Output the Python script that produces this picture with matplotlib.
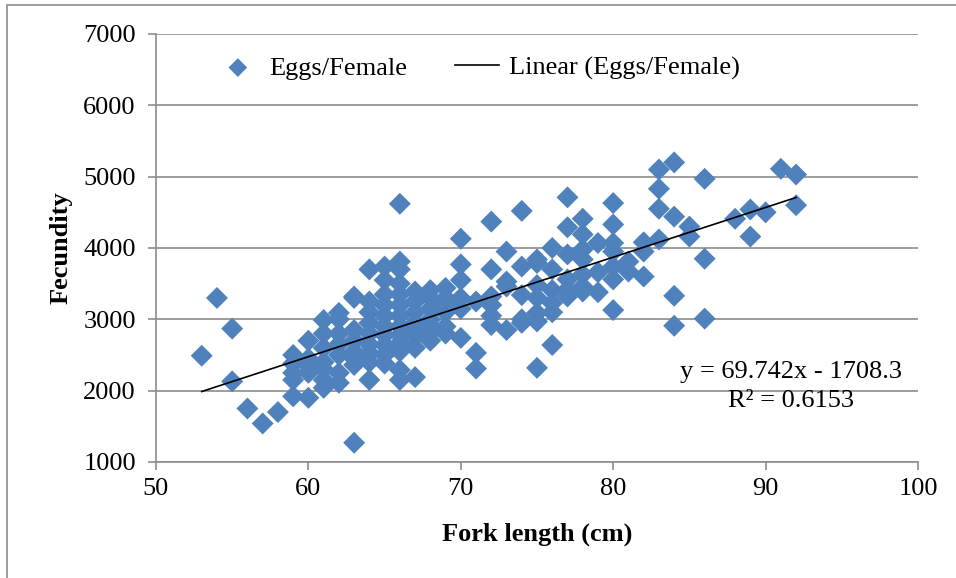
import matplotlib.pyplot as plt
from matplotlib.patches import Rectangle

# fork length (cm) -> eggs per female
fecundity = {
    53: [2490],
    54: [3300],
    55: [2870, 2130],
    56: [1750],
    57: [1540],
    58: [1700],
    59: [2500, 2380, 2250, 2150, 1920],
    60: [2700, 2450, 2350, 2250, 1900],
    61: [2990, 2800, 2600, 2400, 2300, 2150, 2040],
    62: [3090, 3000, 2800, 2650, 2500, 2250, 2110],
    63: [3320, 3300, 2850, 2700, 2550, 2450, 2360, 1270],
    64: [3700, 3250, 3100, 2950, 2800, 2650, 2530, 2400, 2150],
    65: [3740, 3550, 3350, 3200, 3050, 2900, 2780, 2640, 2500, 2380],
    66: [4620, 3810, 3700, 3500, 3350, 3200, 3050, 2900, 2780, 2670, 2550, 2290, 2150],
    67: [3390, 3250, 3100, 2950, 2850, 2760, 2600, 2190],
    68: [3410, 3300, 3150, 3000, 2900, 2810, 2700],
    69: [3440, 3300, 3230, 3100, 2900, 2800],
    70: [4130, 3770, 3550, 3300, 3150, 2740],
    71: [3250, 2530, 2310],
    72: [4370, 3700, 3320, 3200, 3050, 2920],
    73: [3950, 3530, 3460, 2850],
    74: [4520, 3740, 3340, 3000, 2950],
    75: [3840, 3790, 3480, 3300, 3090, 2970, 2320],
    76: [4000, 3700, 3410, 3230, 3100, 2640],
    77: [4710, 4290, 3910, 3560, 3420, 3320],
    78: [4410, 4190, 3980, 3840, 3630, 3460, 3390],
    79: [4070, 3660, 3380],
    80: [4630, 4330, 4070, 3950, 3740, 3560, 3130],
    81: [3810, 3670],
    82: [4080, 3950, 3600],
    83: [5100, 4830, 4550, 4120],
    84: [5200, 4440, 3330, 2910],
    85: [4300, 4160],
    86: [4970, 3850, 3010],
    88: [4410],
    89: [4540, 4160],
    90: [4500],
    91: [5110],
    92: [5030, 4600],
}
length = [k for k, v in fecundity.items() for _ in v]
eggs = [e for v in fecundity.values() for e in v]

# trendline as printed on the chart
slope = 69.742
intercept = -1708.3
r2 = 0.6153

plt.rcParams['font.family'] = ['Liberation Serif', 'DejaVu Serif']
FS = 19

fig = plt.figure(figsize=(9.56, 5.78), dpi=100)
ax = fig.add_axes([156/956, 1-462/578, (918-156)/956, (462-34)/578])

ax.scatter(length, eggs, marker='D', s=125, color='#4F81BD', edgecolors='none',
           label='Eggs/Female', zorder=3)
xs = [min(length), max(length)]
ax.plot(xs, [slope*x + intercept for x in xs], color='black', lw=1.2,
        label='Linear (Eggs/Female)', zorder=4)

ax.set_xlim(50, 100)
ax.set_ylim(1000, 7000)
ax.set_xticks(range(50, 101, 10))
ax.set_yticks(range(1000, 7001, 1000))
ax.grid(axis='y', color='#8C8C8C', lw=1.2, zorder=0)
for s in ['top', 'right']:
    ax.spines[s].set_visible(False)
for s in ['left', 'bottom']:
    ax.spines[s].set_color('#8C8C8C')
    ax.spines[s].set_linewidth(1.2)
ax.tick_params(color='#8C8C8C', width=1.2, length=5.5, labelsize=FS)
ax.tick_params(axis='x', pad=6)
ax.tick_params(axis='y', pad=9)

ax.set_xlabel('Fork length (cm)', fontsize=FS, fontweight='bold')
ax.set_ylabel('Fecundity', fontsize=FS, fontweight='bold')
ax.xaxis.set_label_coords(0.5, -0.1425)
ax.yaxis.set_label_coords(-0.110, 0.5)

ax.legend(loc='center left', bbox_to_anchor=(0.078, 0.9206), ncol=2, frameon=False,
          fontsize=FS, handlelength=1.7, handletextpad=0.35, columnspacing=1.78,
          borderpad=0, borderaxespad=0, scatterpoints=1, markerscale=0.85)

fig.text(791/956, 1-378/578, 'y = %.3fx - %.1f' % (slope, -intercept),
         ha='center', va='baseline', fontsize=FS)
fig.text(791/956, 1-407/578, 'R² = %.4f' % r2,
         ha='center', va='baseline', fontsize=FS)

fig.patches.append(Rectangle((7/956, -0.1), 1.1, 1-5/578+0.1, transform=fig.transFigure,
                             fill=False, edgecolor='#8C8C8C', lw=1.2))

fig.savefig('out.png', dpi=100)
